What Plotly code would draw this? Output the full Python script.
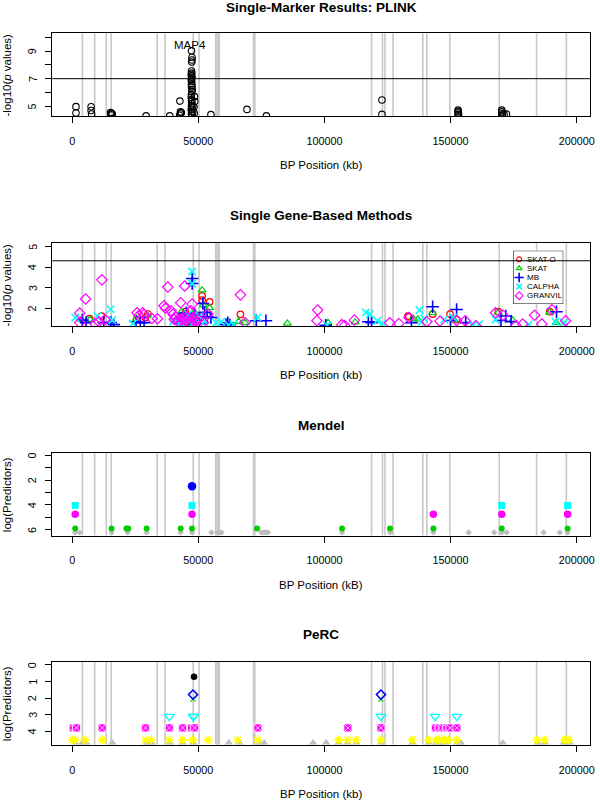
import plotly.graph_objects as go

W, H = 600, 801
FONT = "Liberation Sans, Arial, Helvetica, sans-serif"

# ---------------- data ----------------
gene_bounds = [4050, 8900, 13500, 15500, 33700, 36800, 48000, 50300, 56900, 57400,
               57900, 58300, 71900, 72400, 118700, 123000, 124000, 127200, 139000,
               140600, 149700, 169300, 184100, 195900]

x_tickvals = [0, 50000, 100000, 150000, 200000]
x_ticktext = ["0", "50000", "100000", "150000", "200000"]

titles = ["Single-Marker Results: PLINK", "Single Gene-Based Methods", "Mendel", "PeRC"]
x_titles = ["BP Position (kb)", "BP Position (kb)", "BP Position (kB)", "BP Position (kb)"]
y_titles = ["-log10(<i>p</i> values)", "-log10(<i>p</i> values)", "log(Predictors)", "log(Predictors)"]

# Panel 1: PLINK single marker
plink_pos = [1500, 1500, 7500, 7500, 7700, 15200, 15600, 15900, 15400, 29300, 38700,
             42700, 42900, 43300, 43000, 42600,
             47300, 47500, 47500, 47400, 47300, 47400, 47200, 47300, 47500, 47300,
             47200, 47400, 47300, 47500, 47300, 47600, 47400, 47300, 47200, 47400,
             47300, 47500, 47300, 47400, 47200, 47400, 47300, 47500, 47800, 47800,
             48500, 48600, 48300, 48400, 55000, 69300, 77000, 122800, 122800,
             153000, 153000, 153000, 153200, 153000,
             170300, 170300, 170600, 171200, 172200, 170300]
plink_logp = [4.98, 4.52, 4.97, 4.70, 4.45, 4.55, 4.50, 4.44, 4.38, 4.31, 4.31,
              5.38, 4.60, 4.55, 4.45, 4.36,
              9.02, 8.55, 8.35, 8.20, 7.55, 7.40, 7.30, 7.20, 7.10, 7.00,
              6.90, 6.78, 6.62, 6.50, 6.40, 6.20, 6.05, 5.85, 5.65, 5.50,
              5.35, 5.20, 5.05, 4.90, 4.75, 4.62, 4.48, 4.36, 5.00, 4.60,
              5.70, 5.35, 4.95, 4.50, 4.40, 4.78, 4.31, 5.46, 4.42,
              4.73, 4.62, 4.52, 4.42, 4.35,
              4.73, 4.60, 4.48, 4.42, 4.44, 4.36]
plink_threshold = 7
peak_gene = "MAP4"
peak_gene_pos, peak_gene_y = 46600, 9.46

# Panel 2: gene-based methods
methods = ["SKAT-O", "SKAT", "MB", "CALPHA", "GRANVIL"]
skato_pos = [6900, 11660, 30000, 29000, 44900, 51500, 51500, 54500, 53500, 66700, 133100,
             133500, 142900, 149800, 152400, 168900, 189300, 25500, 47000, 45800, 46000, 49000]
skato_val = [1.49, 1.62, 1.72, 1.55, 1.83, 2.60, 2.40, 2.31, 1.65, 1.70, 1.62,
             1.58, 1.71, 1.71, 1.45, 1.83, 1.83, 1.45, 1.60, 1.30, 1.45, 1.60]
skat_pos = [3700, 7000, 29800, 43400, 51500, 52000, 54500, 49500, 44500, 66000, 68500,
            85300, 101400, 112200, 135200, 142900, 137000, 151500, 168900, 174600, 189300,
            191900, 25500, 46000, 45000, 47500, 50000, 48500]
skat_val = [1.45, 1.45, 1.65, 1.83, 2.88, 2.15, 2.02, 1.55, 1.40, 1.35, 1.30,
            1.26, 1.30, 1.32, 1.50, 1.78, 1.47, 1.42, 1.78, 1.42, 1.80,
            1.30, 1.50, 1.50, 1.20, 1.65, 1.55, 1.80]
mb_pos = [4060, 5500, 12500, 15300, 16500, 25300, 27000, 28500, 45300, 47550, 47550,
          51800, 52500, 53500, 55000, 61700, 73000, 76800, 117400, 118700, 134500,
          142900, 152400, 156000, 171900, 174000, 192000, 150000, 170000, 42500, 48500,
          41500, 43500, 44500, 46500, 49000, 50500, 61000, 62500, 100500]
mb_val = [1.42, 1.30, 1.30, 1.30, 1.20, 1.34, 1.30, 1.30, 1.78, 3.45, 3.20,
          2.23, 1.80, 1.60, 1.55, 1.29, 1.39, 1.39, 1.34, 1.30, 1.30,
          2.07, 1.94, 1.30, 1.62, 1.35, 1.83, 1.40, 1.40, 1.50, 1.70,
          1.30, 1.45, 1.60, 1.45, 1.40, 1.25, 1.20, 1.18, 1.17]
calpha_pos = [1200, 10000, 15200, 15850, 47550, 47550, 46000, 50500, 59100, 73500, 116400,
              118000, 121000, 137700, 139500, 147500, 151000, 161300, 167800, 191600, 195000,
              24000, 40000, 138500, 181000, 57000, 64000, 42500, 44000, 45500, 48000, 49500,
              52500, 62000, 101000, 123000, 159000]
calpha_val = [1.54, 1.61, 1.95, 1.42, 3.78, 3.20, 1.70, 1.60, 1.34, 1.55, 1.79,
              1.71, 1.39, 1.91, 1.50, 1.45, 1.55, 1.22, 1.45, 1.34, 1.30,
              1.25, 1.35, 1.35, 1.20, 1.30, 1.22, 1.25, 1.40, 1.45, 1.30, 1.50,
              1.35, 1.18, 1.17, 1.25, 1.18]
granvil_pos = [3000, 5300, 11800, 10600, 13000, 25700, 27900, 31600, 33800, 36400, 37000,
               37900, 39200, 40000, 41000, 43000, 44600, 47550, 47000, 45500, 43500, 48500,
               46500, 53800, 66700, 68500, 97300, 97000, 111900, 106900, 125900, 129500,
               133500, 140600, 145800, 152400, 155800, 167800, 170800, 178600, 183300, 186200,
               190200, 195600, 26500, 28500, 3000, 9000, 40500, 42000, 44000, 45000, 46000,
               47000, 48000, 49000, 50000, 52000, 108000, 160000, 176000]
granvil_val = [1.76, 2.45, 3.38, 1.34, 1.45, 1.78, 1.78, 1.50, 1.49, 2.12, 2.00,
               3.03, 1.88, 1.71, 1.55, 2.27, 3.08, 2.20, 1.88, 1.60, 1.45, 1.40,
               1.30, 1.72, 2.65, 1.30, 1.91, 1.39, 1.42, 1.20, 1.29, 1.25,
               1.55, 1.34, 1.37, 1.40, 1.39, 1.78, 1.66, 1.23, 1.66, 1.23,
               1.92, 1.39, 1.65, 1.70, 1.30, 1.25, 1.45, 1.35, 1.55, 1.38, 1.50,
               1.25, 1.55, 1.35, 1.45, 1.30, 1.16, 1.15, 1.16]
gene_threshold = 4.31

# Panel 3: Mendel (log number of predictors)
mendel_green_pos = [1200, 15600, 21500, 22200, 29500, 43000, 47500, 73300, 107000, 126000,
                    143200, 170300, 196400]
mendel_green_val = [5.9] * 13
mendel_gray_pos = [1200, 3000, 15600, 22000, 29500, 43000, 47500, 55200, 57700, 58400, 59200,
                   75000, 76000, 76800, 77600, 107000, 126000, 143200, 157200, 167300, 170300,
                   172200, 186900, 193300, 196400]
mendel_gray_val = [6.21] * 25
mendel_magenta_pos = [1200, 47500, 143200, 170300, 196400]
mendel_magenta_val = [4.75, 4.75, 4.75, 4.75, 4.75]
mendel_cyan_pos = [1200, 47500, 170300, 196400]
mendel_cyan_val = [4.05, 4.05, 4.05, 4.05]
mendel_blue_pos = [47500]
mendel_blue_val = [2.5]

# Panel 4: PeRC
perc_black_pos = [48300]
perc_black_val = [0.71]
perc_blue_pos = [47900, 122400]
perc_blue_val = [1.79, 1.79]
perc_green_pos = [47900, 122400]
perc_green_val = [2.06, 2.06]
perc_cyan_pos = [38500, 47900, 48200, 122400, 143900, 152500]
perc_cyan_val = [3.11, 3.11, 3.11, 3.11, 3.11, 3.11]
perc_magenta_pos = [400, 1700, 11900, 29100, 38500, 43800, 47300, 48600, 73600, 109300,
                    122400, 144000, 145500, 147000, 148500, 149800, 152500]
perc_magenta_val = [3.8] * 17
perc_yellow_pos = [0, 1200, 5100, 11900, 29100, 31300, 38500, 43800, 47700, 53800, 65600,
                   73500, 105600, 109200, 112500, 122400, 134800, 141300, 144200, 145400,
                   146500, 147500, 149200, 152500, 184200, 187200, 195300, 196900]
perc_yellow_val = [4.53] * 28
perc_gray_pos = [1200, 4100, 5600, 15900, 29600, 31600, 38800, 43800, 48100, 62100, 66300,
                 74100, 76100, 95500, 100700, 105600, 109200, 112800, 122600, 135000, 141500,
                 144500, 146000, 147500, 152900, 154100, 170700, 184800, 187500, 194900,
                 196000, 197300]
perc_gray_val = [4.71] * 32

# y-axis settings per panel
y_ranges = [[4.31, 10.28], [1.14, 5.16], [6.46, -0.19], [4.81, -0.18]]
y_tickvals = [[5, 6, 7, 8, 9, 10], [2, 3, 4, 5], [0, 1, 2, 3, 4, 5, 6], [0, 1, 2, 3, 4]]
y_ticktext = [["5", "", "7", "", "9", ""], ["2", "3", "4", "5"],
              ["0", "", "2", "", "4", "", "6"], ["0", "1", "2", "3", "4"]]

# ---------------- layout geometry (pixels) ----------------
BOX_L, BOX_R = 52.7, 595.0
BOX_TOPS = [33.3, 243.3, 452.9, 662.0]
BOX_H = 82.6
TITLE_Y = [7.5, 215.5, 425.5, 634.5]
YLABEL_X = 32.5
X_RANGE = [-7900, 205300]

RED, GREEN, BLUE, CYAN, MAGENTA, YELLOW, GRAY = (
    "#FF0000", "#00CD00", "#0000FF", "#00FFFF", "#FF00FF", "#FFFF00", "#BEBEBE")
LINEGRAY = "#C8C8C8"

fig = go.Figure()


def ax(n):
    return ("x" if n == 1 else f"x{n}"), ("y" if n == 1 else f"y{n}")


def add(n, xs, ys, symbol, color, size, lw=1.2, line_color=None):
    xa, ya = ax(n)
    marker = dict(symbol=symbol, size=size, color=color,
                  line=dict(width=lw, color=line_color or color))
    fig.add_trace(go.Scatter(x=xs, y=ys, mode="markers", marker=marker,
                             xaxis=xa, yaxis=ya, showlegend=False, hoverinfo="skip"))


# Panel 1
add(1, plink_pos, plink_logp, "circle-open", "black", 6.5, 1.1)
# Panel 2
p2_styles = [("circle-open", RED, 6.5, 1.2), ("triangle-up-open", GREEN, 7, 1.2),
             ("cross-thin-open", BLUE, 9, 1.6), ("x-thin-open", CYAN, 7.5, 1.6),
             ("diamond-open", MAGENTA, 8, 1.2)]
p2_data = [(skato_pos, skato_val), (skat_pos, skat_val), (mb_pos, mb_val),
           (calpha_pos, calpha_val), (granvil_pos, granvil_val)]
for (sx, sy), (sym, col, sz, lw) in zip(p2_data, p2_styles):
    add(2, sx, sy, sym, col, sz, lw)
# Panel 3
add(3, mendel_gray_pos, mendel_gray_val, "diamond", GRAY, 5, 0)
add(3, mendel_green_pos, mendel_green_val, "circle", GREEN, 6, 0)
add(3, mendel_magenta_pos, mendel_magenta_val, "circle", MAGENTA, 7.5, 0)
add(3, mendel_cyan_pos, mendel_cyan_val, "square", CYAN, 7, 0)
add(3, mendel_blue_pos, mendel_blue_val, "circle", BLUE, 8.5, 0)
# Panel 4
add(4, perc_gray_pos, perc_gray_val, "triangle-up", GRAY, 8, 0)
add(4, perc_yellow_pos, perc_yellow_val, "asterisk-open", YELLOW, 7.5, 1.5)
add(4, perc_magenta_pos, perc_magenta_val, "square-x", MAGENTA, 8, 0.8, line_color="white")
add(4, perc_cyan_pos, perc_cyan_val, "triangle-down-open", CYAN, 8.5, 1.3)
add(4, perc_green_pos, perc_green_val, "x-thin-open", GREEN, 5, 1.2)
add(4, perc_blue_pos, perc_blue_val, "diamond-open", BLUE, 7, 1.5)
add(4, perc_black_pos, perc_black_val, "circle", "black", 6.5, 0)

shapes = []
annotations = []
layout = {}

for i in range(4):
    n = i + 1
    xa, ya = ax(n)
    top = BOX_TOPS[i]
    bot = top + BOX_H
    xkey = "xaxis" if n == 1 else f"xaxis{n}"
    ykey = "yaxis" if n == 1 else f"yaxis{n}"
    layout[xkey] = dict(domain=[BOX_L / W, BOX_R / W], range=X_RANGE, anchor=ya,
                        tickmode="array", tickvals=x_tickvals, ticktext=x_ticktext,
                        ticks="outside", ticklen=6, tickwidth=1, tickcolor="black",
                        showline=True, mirror=True, linecolor="black", linewidth=1,
                        showgrid=False, zeroline=False, ticklabelstandoff=9,
                        tickfont=dict(family=FONT, size=10.8, color="black"))
    layout[ykey] = dict(domain=[1 - bot / H, 1 - top / H], range=y_ranges[i], anchor=xa,
                        tickmode="array", tickvals=y_tickvals[i], showticklabels=False,
                        ticks="outside", ticklen=6, tickwidth=1,
                        tickcolor="black", showline=True, mirror=True, linecolor="black",
                        linewidth=1, showgrid=False, zeroline=False)
    # rotated y tick labels (R style, reading bottom-to-top)
    for v, t in zip(y_tickvals[i], y_ticktext[i]):
        if t:
            annotations.append(dict(text=t, xref="paper", yref=ya, x=YLABEL_X / W, y=v,
                                    textangle=-90, xanchor="center", yanchor="middle",
                                    showarrow=False,
                                    font=dict(family=FONT, size=10.8, color="black")))
    for g in gene_bounds:
        shapes.append(dict(type="line", xref=xa, yref=f"{ya} domain", x0=g, x1=g, y0=0, y1=1,
                           line=dict(color=LINEGRAY, width=1.6), layer="below"))
    annotations.append(dict(text=f"<b>{titles[i]}</b>", xref="paper", yref="paper",
                            x=(BOX_L + BOX_R) / 2 / W, y=1 - TITLE_Y[i] / H,
                            xanchor="center", yanchor="middle", showarrow=False,
                            font=dict(family=FONT, size=13.5, color="black")))
    annotations.append(dict(text=x_titles[i], xref="paper", yref="paper",
                            x=(BOX_L + BOX_R) / 2 / W, y=1 - (bot + 49.5) / H,
                            xanchor="center", yanchor="middle", showarrow=False,
                            font=dict(family=FONT, size=11.5, color="black")))
    annotations.append(dict(text=y_titles[i], xref="paper", yref="paper",
                            x=7.0 / W, y=1 - (top + BOX_H / 2) / H, textangle=-90,
                            xanchor="center", yanchor="middle", showarrow=False,
                            font=dict(family=FONT, size=11.5, color="black")))

# threshold lines
shapes.append(dict(type="line", xref="x domain", yref="y", x0=0, x1=1,
                   y0=plink_threshold, y1=plink_threshold, line=dict(color="black", width=1)))
shapes.append(dict(type="line", xref="x2 domain", yref="y2", x0=0, x1=1,
                   y0=gene_threshold, y1=gene_threshold, line=dict(color="black", width=1)))
annotations.append(dict(text=peak_gene, xref="x", yref="y", x=peak_gene_pos, y=peak_gene_y,
                        showarrow=False, xanchor="center", yanchor="middle",
                        font=dict(family=FONT, size=11.5, color="black")))

# legend for panel 2 built on an overlay subplot in pixel units
LG_L, LG_R, LG_T, LG_B = 517.5, 568.0, 250.7, 304.0
layout["xaxis5"] = dict(domain=[LG_L / W, LG_R / W], range=[LG_L, LG_R], anchor="y5",
                        visible=False, showgrid=False, zeroline=False)
layout["yaxis5"] = dict(domain=[1 - LG_B / H, 1 - LG_T / H], range=[LG_B, LG_T], anchor="x5",
                        visible=False, showgrid=False, zeroline=False)
shapes.append(dict(type="rect", xref="x5", yref="y5", x0=LG_L, x1=LG_R, y0=LG_T, y1=LG_B,
                   fillcolor="white", line=dict(color="black", width=1), layer="below"))
for k, (name, (sym, col, sz, lw)) in enumerate(zip(methods, p2_styles)):
    yy = LG_T + 8.6 + 9.1 * k
    fig.add_trace(go.Scatter(x=[LG_L + 6], y=[yy], mode="markers", xaxis="x5", yaxis="y5",
                             marker=dict(symbol=sym, size=sz * 0.75, color=col,
                                         line=dict(width=lw, color=col)),
                             showlegend=False, hoverinfo="skip", cliponaxis=False))
    annotations.append(dict(text=name, xref="x5", yref="y5", x=LG_L + 12, y=yy,
                            xanchor="left", yanchor="middle", showarrow=False,
                            font=dict(family=FONT, size=8, color="black")))

fig.update_layout(width=W, height=H, margin=dict(l=0, r=0, t=0, b=0),
                  paper_bgcolor="white", plot_bgcolor="white", showlegend=False,
                  shapes=shapes, annotations=annotations, **layout)

fig.write_html("out.html", config={"displayModeBar": False},
               post_script="document.body.style.margin='0px';"
                           "document.body.style.overflow='hidden';")
